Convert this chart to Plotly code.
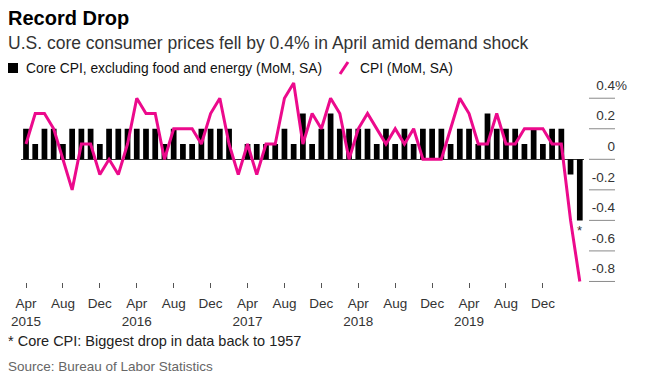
import plotly.graph_objects as go

# The page body has an 8px default margin, so the figure is sized to fill the rest of the window
OFF = 8
W, H = 655 - OFF, 376 - OFF

month_names = ["Jan", "Feb", "Mar", "Apr", "May", "Jun", "Jul", "Aug", "Sep", "Oct", "Nov", "Dec"]
months = [f"{month_names[(3 + i) % 12]} {2015 + (3 + i) // 12}" for i in range(61)]  # Apr 2015 .. Apr 2020

core_cpi = [0.2, 0.1, 0.2, 0.2, 0.1, 0.2, 0.2, 0.2, 0.1, 0.2, 0.2, 0.2,
            0.2, 0.2, 0.2, 0.1, 0.2, 0.1, 0.1, 0.2, 0.2, 0.2, 0.2, 0.0,
            0.1, 0.1, 0.1, 0.1, 0.2, 0.1, 0.3, 0.1, 0.2, 0.3, 0.2, 0.2,
            0.2, 0.2, 0.1, 0.2, 0.1, 0.2, 0.1, 0.2, 0.2, 0.2, 0.1, 0.2,
            0.2, 0.1, 0.3, 0.2, 0.2, 0.2, 0.1, 0.2, 0.1, 0.2, 0.2, -0.1,
            -0.4]

cpi = [0.1, 0.3, 0.3, 0.2, 0.0, -0.2, 0.1, 0.1, -0.1, 0.0, -0.1, 0.1,
       0.4, 0.3, 0.3, 0.0, 0.2, 0.2, 0.2, 0.1, 0.3, 0.4, 0.1, -0.1,
       0.1, -0.1, 0.1, 0.1, 0.4, 0.5, 0.1, 0.3, 0.2, 0.4, 0.3, 0.0,
       0.2, 0.3, 0.2, 0.1, 0.2, 0.1, 0.2, 0.0, 0.0, 0.0, 0.2, 0.4,
       0.3, 0.1, 0.1, 0.3, 0.1, 0.1, 0.2, 0.2, 0.2, 0.1, 0.1, -0.4,
       -0.8]

tick_months = months[::4][:-1]
tick_text = [m.split(" ")[0] + ("<br>" + m.split(" ")[1] if m.startswith("Apr") else "") for m in tick_months]

y_vals = [0.4, 0.2, 0, -0.2, -0.4, -0.6, -0.8]
y_text = ["0.4%", "0.2", "0", "-0.2", "-0.4", "-0.6", "-0.8"]
hidden_pct = "<span style='color:rgba(0,0,0,0)'>%</span>"
y_text_fmt = [t if t.endswith("%") else t + hidden_pct for t in y_text]

core_name = "Core CPI, excluding food and energy (MoM, SA)"
cpi_name = "CPI (MoM, SA)"

PINK = "#ec0a8c"
FONT = "Liberation Sans"


def fx(px):
    """window pixel x -> paper fraction"""
    return (px - OFF) / W


def fy(py):
    """window pixel y -> paper fraction"""
    return 1 - (py - OFF) / H


fig = go.Figure()
fig.add_trace(go.Bar(x=months, y=core_cpi, name=core_name,
                     marker=dict(color="#000000", line=dict(width=0))))
fig.add_trace(go.Scatter(x=months, y=cpi, name=cpi_name, mode="lines",
                         line=dict(color=PINK, width=3)))

px_per_month = 9.23
x_left = 26 - 0.5 * px_per_month
x_right = 579.8 + 0.5 * px_per_month
zero_px, unit_px = 159.3, 152.7
top_px, bot_px = 75, 290

fig.update_layout(
    width=W, height=H,
    margin=dict(l=0, r=0, t=0, b=0, autoexpand=False),
    paper_bgcolor="white", plot_bgcolor="white",
    bargap=0.38,
    font=dict(family=FONT, color="#222", size=13),
    showlegend=False,
    xaxis=dict(type="category", domain=[fx(x_left), fx(x_right)], range=[-0.5, 60.5],
               anchor="free", position=fy(282),
               tickvals=tick_months, ticktext=tick_text, ticks="outside", ticklen=5,
               tickcolor="#555", tickwidth=1, showline=False, showgrid=False, zeroline=False,
               ticklabelstandoff=4,
               tickfont=dict(size=13.5, color="#333"), tickangle=0),
    yaxis=dict(domain=[fy(bot_px), fy(top_px)],
               range=[-(bot_px - zero_px) / unit_px, (zero_px - top_px) / unit_px],
               anchor="free", position=fx(627), side="left",
               tickvals=y_vals, ticktext=y_text_fmt, ticks="", showgrid=False,
               zeroline=True, zerolinecolor="#333", zerolinewidth=1, showline=False,
               ticklabelshift=-13, ticklabelstandoff=0,
               tickfont=dict(size=13.5, color="#333")),
)

for v in y_vals:
    fig.add_shape(type="line", xref="paper", yref="y", x0=fx(589), x1=fx(615), y0=v, y1=v,
                  line=dict(color="#8a8a8a", width=1))

fig.add_annotation(x=months[-1], y=core_cpi[-1], xref="x", yref="y", text="*", showarrow=False,
                   yanchor="top", yshift=-1, font=dict(size=13, color="#333"))

# legend (manual, one row)
fig.add_shape(type="rect", xref="paper", yref="paper", x0=fx(8), x1=fx(18), y0=fy(73), y1=fy(63),
              fillcolor="#000", line=dict(width=0))
fig.add_annotation(x=fx(24), y=fy(68), xref="paper", yref="paper", xanchor="left", yanchor="middle",
                   text=core_name, showarrow=False, font=dict(size=13.8, color="#111"))
fig.add_annotation(x=fx(358), y=fy(68), xref="paper", yref="paper", xanchor="left", yanchor="middle",
                   text=cpi_name, showarrow=False, font=dict(size=13.8, color="#111"))
fig.add_shape(type="line", xref="paper", yref="paper", x0=fx(340), x1=fx(348), y0=fy(74), y1=fy(62),
              line=dict(color=PINK, width=3))

fig.add_annotation(x=fx(6), y=fy(18), xref="paper", yref="paper", xanchor="left", yanchor="middle",
                   text="<b>Record Drop</b>", showarrow=False, font=dict(size=20, color="#000"))
fig.add_annotation(x=fx(6), y=fy(43), xref="paper", yref="paper", xanchor="left", yanchor="middle",
                   text="U.S. core consumer prices fell by 0.4% in April amid demand shock",
                   showarrow=False, font=dict(size=17.5, color="#333"))
fig.add_annotation(x=fx(6), y=fy(341), xref="paper", yref="paper", xanchor="left", yanchor="middle",
                   text="* Core CPI: Biggest drop in data back to 1957",
                   showarrow=False, font=dict(size=14.5, color="#222"))
fig.add_annotation(x=fx(6), y=fy(366), xref="paper", yref="paper", xanchor="left", yanchor="middle",
                   text="Source: Bureau of Labor Statistics",
                   showarrow=False, font=dict(size=13.5, color="#666"))

fig.write_html("out.html")
